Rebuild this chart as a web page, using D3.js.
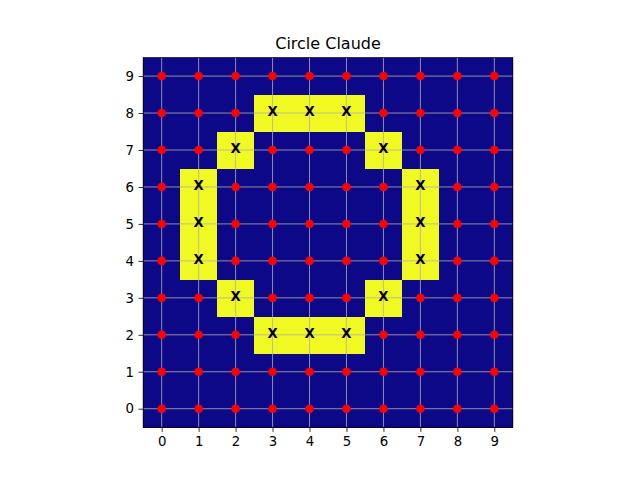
<!DOCTYPE html>
<html><head><meta charset="utf-8">
<script src="https://cdn.jsdelivr.net/npm/d3@7"></script>
<style>body{margin:0;background:#fff}svg{display:block}</style>
</head><body>
<script>
const title = "Circle Claude";
const xTicks = [0,1,2,3,4,5,6,7,8,9];
const yTicks = [0,1,2,3,4,5,6,7,8,9];
// cells on the circle, as [x, y]
const circleCells = [[3,8],[4,8],[5,8],[2,7],[6,7],[1,6],[7,6],[1,5],[7,5],[1,4],[7,4],[2,3],[6,3],[3,2],[4,2],[5,2]];
const markLabel = "X";
const lowColor = "#0d0887", highColor = "#f0f921";

const W = 640, H = 480;
const pL = 143.2, pR = 512.8, pT = 57.6, pB = 427.2;
const svg = d3.select("body").append("svg").attr("width", W).attr("height", H);
const x = d3.scaleLinear().domain([-0.5, 9.5]).range([pL, pR]);
const y = d3.scaleLinear().domain([-0.5, 9.5]).range([pB, pT]);
const onSet = new Set(circleCells.map(d => d[0] + "," + d[1]));
const cells = [];
for (const j of yTicks) for (const i of xTicks) cells.push({i, j, on: onSet.has(i + "," + j)});

svg.append("g").selectAll("rect").data(cells).join("rect")
  .attr("x", d => x(d.i - 0.5)).attr("y", d => y(d.j + 0.5))
  .attr("width", x(1) - x(0) + 0.3).attr("height", y(0) - y(1) + 0.3)
  .attr("fill", d => d.on ? highColor : lowColor).attr("shape-rendering", "crispEdges");

const grid = svg.append("g").attr("stroke", "#b0b0b0").attr("stroke-width", 0.8);
grid.selectAll(".gx").data(xTicks).join("line").attr("class", "gx").attr("x1", d => x(d)).attr("x2", d => x(d)).attr("y1", pT).attr("y2", pB);
grid.selectAll(".gy").data(yTicks).join("line").attr("class", "gy").attr("y1", d => y(d)).attr("y2", d => y(d)).attr("x1", pL).attr("x2", pR);

svg.append("g").selectAll("circle").data(cells.filter(d => !d.on)).join("circle")
  .attr("cx", d => x(d.i)).attr("cy", d => y(d.j)).attr("r", 4.3).attr("fill", "#ff0000");

svg.append("g").selectAll("text").data(cells.filter(d => d.on)).join("text")
  .attr("x", d => x(d.i)).attr("y", d => y(d.j)).attr("dy", "0.26em")
  .attr("text-anchor", "middle").attr("font-family", "DejaVu Sans").attr("font-weight", "bold")
  .attr("font-size", 13.3).attr("fill", "#000").text(markLabel);

svg.append("rect").attr("x", pL).attr("y", pT).attr("width", pR - pL).attr("height", pB - pT)
  .attr("fill", "none").attr("stroke", "#000").attr("stroke-width", 0.8);

const xa = svg.append("g").attr("transform", `translate(0,${pB})`)
  .call(d3.axisBottom(x).tickValues(xTicks).tickSize(4.7).tickPadding(4.5).tickFormat(d3.format("d")));
const ya = svg.append("g").attr("transform", `translate(${pL},0)`)
  .call(d3.axisLeft(y).tickValues(yTicks).tickSize(4.7).tickPadding(4.5).tickFormat(d3.format("d")));
[xa, ya].forEach(a => {
  a.select(".domain").remove();
  a.selectAll("line").attr("stroke", "#000").attr("stroke-width", 0.8);
  a.selectAll("text").attr("font-family", "DejaVu Sans").attr("font-size", 13.3).attr("fill", "#000");
});

svg.append("text").attr("x", (pL + pR) / 2).attr("y", 49).attr("text-anchor", "middle")
  .attr("font-family", "DejaVu Sans").attr("font-size", 16).attr("fill", "#000").text(title);
</script>
</body></html>
